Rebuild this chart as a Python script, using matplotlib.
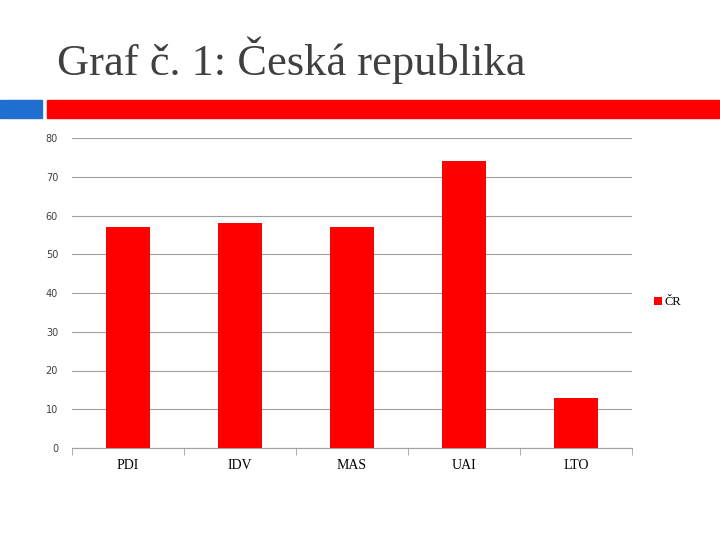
import matplotlib.pyplot as plt
import matplotlib.patches as patches
import numpy as np

categories = ["PDI", "IDV", "MAS", "UAI", "LTO"]
values = [57, 58, 57, 74, 13]
series_name = "ČR"
yticks = [0, 10, 20, 30, 40, 50, 60, 70, 80]

fig = plt.figure(figsize=(7.2, 5.4), dpi=100)
W, H = 720, 540

# title and decorative strips
fig.text(57 / W, 1 - 60 / H, "Graf č. 1: Česká republika", fontsize=32,
         family="Liberation Serif", color="#404040", va="center", ha="left")
fig.patches.append(patches.Rectangle((0, 1 - 118 / H), 42 / W, 18 / H,
                                     transform=fig.transFigure, color="#1f6fd0"))
fig.patches.append(patches.Rectangle((47 / W, 1 - 118 / H), 673 / W, 18 / H,
                                     transform=fig.transFigure, color="#ff0000"))

ax = fig.add_axes([72 / W, 1 - 448 / H, 560 / W, 310 / H])
x = np.arange(len(categories))
ax.bar(x, values, width=0.4, color="#ff0000", label=series_name, zorder=3)
ax.set_xlim(-0.5, len(categories) - 0.5)
ax.set_ylim(0, 80)
ax.set_yticks(yticks)
ax.tick_params(axis="y", labelsize=7, length=0, pad=10, labelcolor="#404040")
ax.yaxis.grid(True, color="#a0a0a0", linewidth=0.8, zorder=0)
ax.set_xticks(x)
ax.set_xticklabels(categories, family="Liberation Serif", fontsize=10)
ax.tick_params(axis="x", length=0, pad=8)
ax.set_xticks(np.arange(len(categories) + 1) - 0.5, minor=True)
ax.tick_params(axis="x", which="minor", length=5, color="#a0a0a0")
for s in ["top", "right", "left"]:
    ax.spines[s].set_visible(False)
ax.spines["bottom"].set_color("#a0a0a0")

ax.legend(loc="center left", bbox_to_anchor=(1.02, 0.47), frameon=False,
          handlelength=0.6, handleheight=0.6, handletextpad=0.2,
          prop={"family": "Liberation Serif", "size": 9})

fig.savefig("out.png", dpi=100)
